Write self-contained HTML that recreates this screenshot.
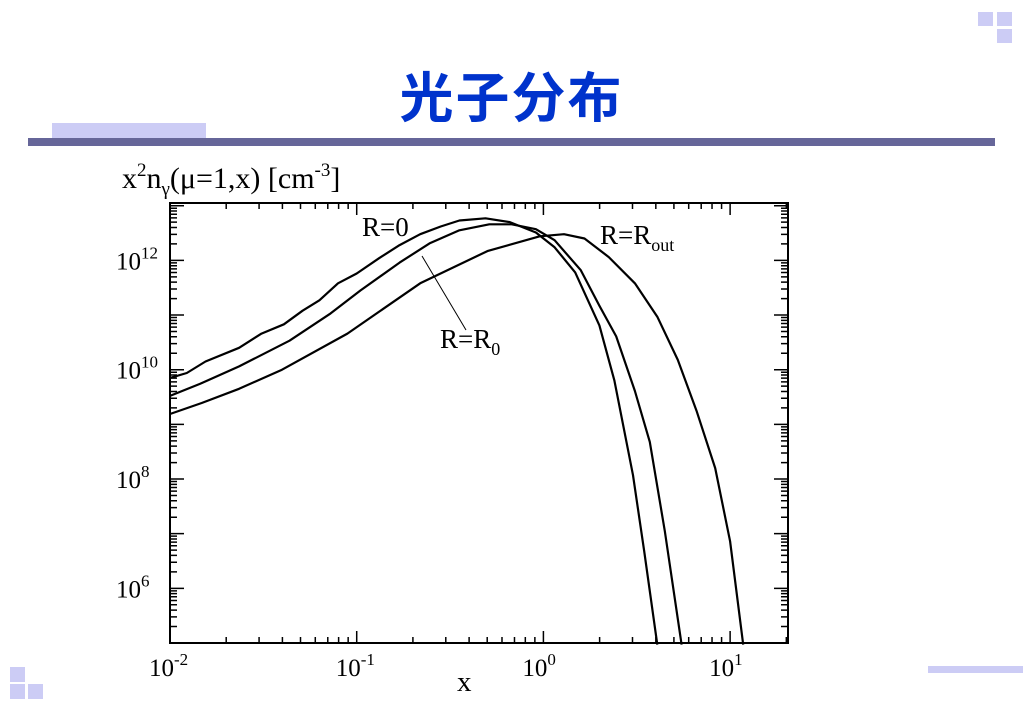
<!DOCTYPE html>
<html><head><meta charset="utf-8"><style>
body{margin:0;width:1023px;height:708px;background:#fff;overflow:hidden;position:relative;font-family:"Liberation Serif",serif}
.d{position:absolute;background:#ccccf5}
</style></head><body>
<div class="d" style="left:978px;top:12px;width:15px;height:14px"></div>
<div class="d" style="left:997px;top:12px;width:15px;height:14px"></div>
<div class="d" style="left:997px;top:29px;width:15px;height:14px"></div>
<div class="d" style="left:10px;top:667px;width:15px;height:15px"></div>
<div class="d" style="left:10px;top:684px;width:15px;height:15px"></div>
<div class="d" style="left:28px;top:684px;width:15px;height:15px"></div>
<div class="d" style="left:928px;top:666px;width:95px;height:7px"></div>
<div class="d" style="left:52px;top:123px;width:154px;height:15px"></div>
<div style="position:absolute;left:28px;top:138px;width:967px;height:8px;background:#666699"></div>
<div style="position:absolute;left:0;width:1023px;top:54px;text-align:center;font:bold 54px 'Liberation Sans','Noto Sans CJK SC',sans-serif;color:#0033cc;letter-spacing:2px">光子分布</div>
<svg width="1023" height="708" style="position:absolute;left:0;top:0" id="c"></svg>
<script>
const xLogMin=-2, xLogMax=1.31, yLogMin=5, yLogMax=13.05;
const xTickExps=[-2,-1,0,1];
const yTickExps=[12,10,8,6];
const r0X=[-2.00,-1.91,-1.81,-1.63,-1.51,-1.39,-1.29,-1.20,-1.10,-1.00,-0.88,-0.77,-0.66,-0.55,-0.45,-0.31,-0.18,-0.04,0.06,0.17,0.30,0.38,0.48,0.54,0.61];
const r0Y=[9.85,9.94,10.15,10.40,10.66,10.83,11.08,11.27,11.58,11.76,12.04,12.28,12.48,12.62,12.73,12.77,12.70,12.51,12.24,11.78,10.81,9.80,8.07,6.68,4.97];
const rr0X=[-2.00,-1.84,-1.63,-1.36,-1.14,-0.98,-0.77,-0.61,-0.45,-0.29,-0.17,-0.04,0.06,0.20,0.30,0.39,0.49,0.57,0.65,0.74];
const rr0Y=[9.52,9.74,10.06,10.53,11.03,11.45,11.96,12.31,12.55,12.66,12.66,12.57,12.37,11.82,11.17,10.61,9.61,8.68,7.05,4.97];
const routX=[-2.00,-1.83,-1.63,-1.40,-1.05,-0.66,-0.30,-0.02,0.11,0.22,0.35,0.49,0.61,0.72,0.82,0.92,1.00,1.07];
const routY=[9.19,9.39,9.65,10.00,10.66,11.58,12.17,12.44,12.48,12.40,12.06,11.58,10.97,10.18,9.25,8.20,6.86,4.97];
const L=170,R=788,T=203,B=643;
const sx=v=>L+(v-xLogMin)/(xLogMax-xLogMin)*(R-L);
const sy=v=>B-(v-yLogMin)/(yLogMax-yLogMin)*(B-T);
const svg=document.getElementById('c');const NS='http://www.w3.org/2000/svg';
function mk(t,a,p){const e=document.createElementNS(NS,t);for(const k in a)e.setAttribute(k,a[k]);(p||svg).appendChild(e);return e;}
let frame=mk('rect',{x:L,y:T,width:R-L,height:B-T,fill:'none',stroke:'#000','stroke-width':2});


let tk='';
for(let d=Math.floor(xLogMin);d<=Math.ceil(xLogMax);d++){for(let m=1;m<10;m++){const v=d+Math.log10(m);if(v<xLogMin-1e-9||v>xLogMax)continue;const x=sx(v),len=m==1?12:6;tk+=`M${x},${B}v${-len}M${x},${T}v${len}`;}}
for(let d=Math.floor(yLogMin);d<=Math.ceil(yLogMax);d++){for(let m=1;m<10;m++){const v=d+Math.log10(m);if(v<yLogMin||v>yLogMax)continue;const y=sy(v),len=m==1?14:7;tk+=`M${L},${y}h${len}M${R},${y}h${-len}`;}}
let ticks=mk('path',{d:tk,stroke:'#000','stroke-width':1.5,fill:'none'});


xTickExps.forEach(e=>{const t=mk('text',{x:sx(e)-21,y:676,'font-size':25,'font-family':'Liberation Serif'});t.innerHTML=`10<tspan dy="-11" font-size="17">${e}</tspan>`;});
yTickExps.forEach(e=>{const t=mk('text',{x:116,y:sy(e)+9,'font-size':25,'font-family':'Liberation Serif'});t.innerHTML=`10<tspan dy="-11" font-size="17">${e}</tspan>`;});
function line(xs,ys,name){const d=xs.map((x,i)=>(i?'L':'M')+sx(x).toFixed(1)+','+sy(ys[i]).toFixed(1)).join('');const p=mk('path',{d,fill:'none',stroke:'#000','stroke-width':2.2,'stroke-linejoin':'round'});}
line(r0X,r0Y,'series-r-0');line(rr0X,rr0Y,'series-r-r0');line(routX,routY,'series-r-rout');
let lead=mk('line',{x1:422,y1:256,x2:466,y2:330,stroke:'#000','stroke-width':1});


function lab(x,y,html,name,fs){const t=mk('text',{x,y,'font-size':fs||27,'font-family':'Liberation Serif'});t.innerHTML=html;}
lab(362,236,'R=0','label-r-0');
lab(440,348,'R=R<tspan dy="7" font-size="18">0</tspan>','label-r-r0');
lab(600,244,'R=R<tspan dy="7" font-size="18">out</tspan>','label-r-rout');
lab(122,188,'x<tspan dy="-12" font-size="19">2</tspan><tspan dy="12">n</tspan><tspan dy="7" font-size="19">γ</tspan><tspan dy="-7">(μ=1,x) [cm</tspan><tspan dy="-12" font-size="19">-3</tspan><tspan dy="12">]</tspan>','y-axis-title',30);
lab(457,691,'x','x-axis-title',29);
</script>
</body></html>
